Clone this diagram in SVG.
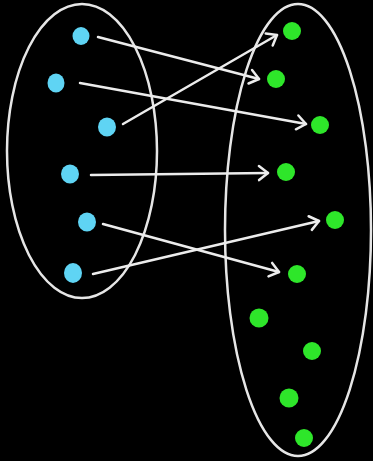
<svg xmlns="http://www.w3.org/2000/svg" width="373" height="461" viewBox="0 0 373 461">
<style>
.set{fill:none;stroke:#e6e6e6;stroke-width:2.5}
.b{fill:#5fd4f4}
.g{fill:#2ee62a}
.c{stroke:#ececec;stroke-width:2.5;fill:none;stroke-linecap:round;marker-end:url(#ah)}
</style>
<defs>
<marker id="ah" markerUnits="userSpaceOnUse" markerWidth="16" markerHeight="20" refX="12" refY="8" orient="auto" viewBox="0 0 16 16">
<path d="M3,1 L12,8 L3,15" fill="none" stroke="#ececec" stroke-width="2.5" stroke-linecap="round" stroke-linejoin="round"/>
</marker>
</defs>
<rect width="373" height="461" fill="#000"/>
<g id="setA"><ellipse class="set" cx="82" cy="151" rx="75" ry="147"/></g>
<g id="setB"><ellipse class="set" cx="298" cy="230" rx="73" ry="226"/></g>
<g id="a1"><ellipse class="b" cx="81" cy="36" rx="8.5" ry="9"/></g>
<g id="a2"><ellipse class="b" cx="56" cy="83" rx="8.5" ry="9.5"/></g>
<g id="a3"><ellipse class="b" cx="107" cy="127" rx="9" ry="9.5"/></g>
<g id="a4"><ellipse class="b" cx="70" cy="174" rx="9" ry="9.5"/></g>
<g id="a5"><ellipse class="b" cx="87" cy="222" rx="9" ry="9.5"/></g>
<g id="a6"><ellipse class="b" cx="73" cy="273" rx="9" ry="10"/></g>
<g id="b1"><circle class="g" cx="292" cy="31" r="9"/></g>
<g id="b2"><circle class="g" cx="276" cy="79" r="9"/></g>
<g id="b3"><circle class="g" cx="320" cy="125" r="9"/></g>
<g id="b4"><circle class="g" cx="286" cy="172" r="9"/></g>
<g id="b5"><circle class="g" cx="335" cy="220" r="9"/></g>
<g id="b6"><circle class="g" cx="297" cy="274" r="9"/></g>
<g id="b7"><circle class="g" cx="259" cy="318" r="9.5"/></g>
<g id="b8"><circle class="g" cx="312" cy="351" r="9"/></g>
<g id="b9"><circle class="g" cx="289" cy="398" r="9.5"/></g>
<g id="b10"><circle class="g" cx="304" cy="438" r="9"/></g>
<g id="connectors">
<line class="c" x1="98" y1="37" x2="259" y2="79"/>
<line class="c" x1="123" y1="124" x2="277" y2="35"/>
<line class="c" x1="80" y1="83" x2="306" y2="124"/>
<line class="c" x1="91" y1="175" x2="268" y2="173"/>
<line class="c" x1="93" y1="274" x2="319" y2="221"/>
<line class="c" x1="103" y1="224" x2="279" y2="272"/>
</g>
</svg>
